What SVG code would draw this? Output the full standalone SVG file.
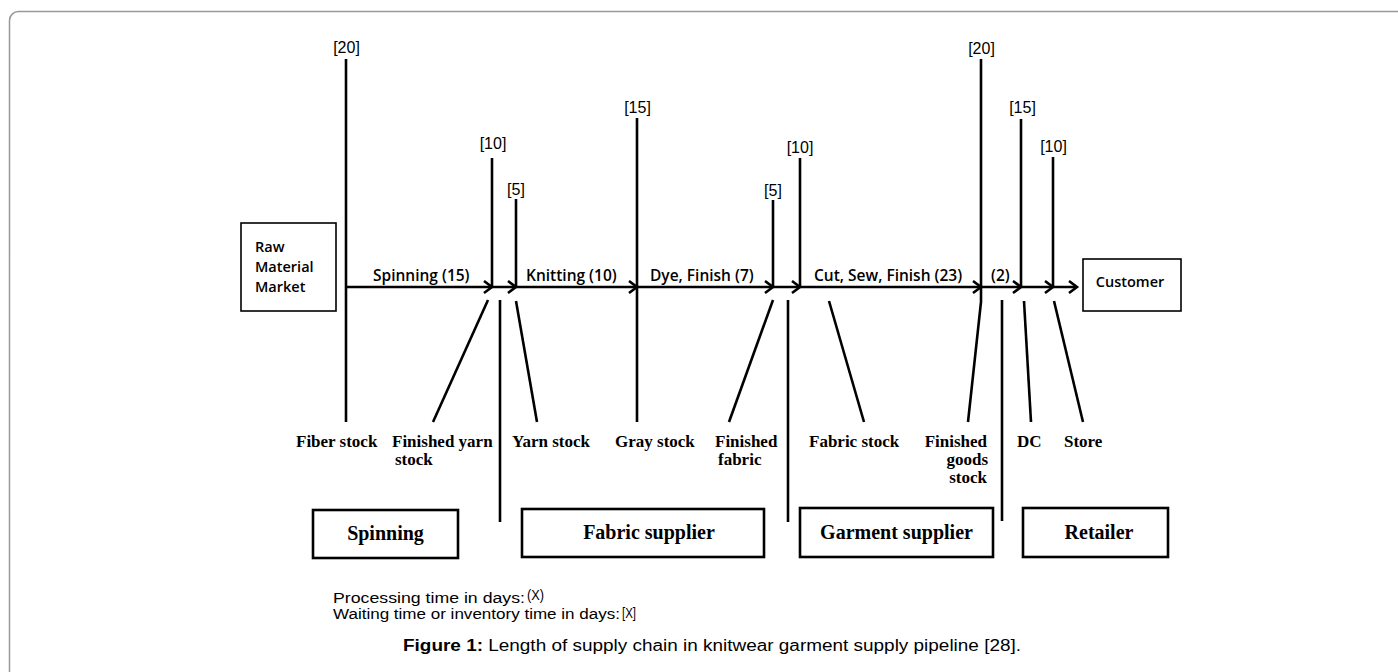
<svg xmlns="http://www.w3.org/2000/svg" width="1398" height="672" viewBox="0 0 1398 672">
<style>
.ln{stroke:#000;stroke-width:2.6;fill:none}
.ch{stroke:#000;stroke-width:2.6;fill:none;stroke-linejoin:miter}
.box{fill:#fff;stroke:#000;stroke-width:1.6}
.tbox{fill:#fff;stroke:#000;stroke-width:2.6}
.wt{font-family:"Liberation Sans",Arial,sans-serif;font-size:16px;text-anchor:middle}
.pl{font-family:"Open Sans",sans-serif;font-size:15.5px;font-weight:600}
.st{font-family:"Liberation Serif","Times New Roman",serif;font-size:17px;font-weight:bold}
.sup{font-family:"Liberation Serif","Times New Roman",serif;font-size:20px;font-weight:bold;text-anchor:middle}
.leg{font-family:"Liberation Sans",Arial,sans-serif;font-size:15.5px}
</style>
<rect x="9.5" y="11.5" width="1420" height="720" rx="9" fill="#fff" stroke="#999" stroke-width="1.5"/>

<g id="connectors">
  <line class="ln" x1="346" y1="287" x2="1076" y2="287"/>
  <polyline class="ch" points="484,281 492,287 484,293"/>
  <polyline class="ch" points="508,281 516,287 508,293"/>
  <polyline class="ch" points="629,281 637,287 629,293"/>
  <polyline class="ch" points="765,281 773,287 765,293"/>
  <polyline class="ch" points="792,281 800,287 792,293"/>
  <polyline class="ch" points="973,281 981,287 973,293"/>
  <polyline class="ch" points="1013,281 1021,287 1013,293"/>
  <polyline class="ch" points="1045,281 1053,287 1045,293"/>
  <polyline class="ch" points="1069,281 1077,287 1069,293"/>
  <line class="ln" x1="346" y1="59" x2="346" y2="422"/>
  <line class="ln" x1="492" y1="158" x2="492" y2="287"/>
  <line class="ln" x1="516" y1="199" x2="516" y2="287"/>
  <line class="ln" x1="637" y1="118" x2="637" y2="422"/>
  <line class="ln" x1="773" y1="200" x2="773" y2="287"/>
  <line class="ln" x1="800" y1="158" x2="800" y2="287"/>
  <polyline class="ln" points="981,59 981,302 968,422"/>
  <line class="ln" x1="1021" y1="119" x2="1021" y2="287"/>
  <line class="ln" x1="1053" y1="157" x2="1053" y2="287"/>
  <line class="ln" x1="488" y1="300" x2="433" y2="422"/>
  <line class="ln" x1="516" y1="301" x2="537" y2="422"/>
  <line class="ln" x1="773" y1="300" x2="729" y2="422"/>
  <line class="ln" x1="829" y1="301" x2="864" y2="422"/>
  <line class="ln" x1="1024" y1="301" x2="1031" y2="422"/>
  <line class="ln" x1="1054" y1="301" x2="1083" y2="422"/>
  <line class="ln" x1="500" y1="300" x2="500" y2="522"/>
  <line class="ln" x1="788" y1="300" x2="788" y2="522"/>
  <line class="ln" x1="1002" y1="300" x2="1002" y2="521"/>
</g>

<g id="waiting-labels">
  <text class="wt" x="346.5" y="53">[20]</text>
  <text class="wt" x="493" y="149">[10]</text>
  <text class="wt" x="516" y="195">[5]</text>
  <text class="wt" x="637.5" y="113">[15]</text>
  <text class="wt" x="773" y="196">[5]</text>
  <text class="wt" x="800" y="153">[10]</text>
  <text class="wt" x="981.5" y="54">[20]</text>
  <text class="wt" x="1022.5" y="113">[15]</text>
  <text class="wt" x="1053.5" y="152">[10]</text>
</g>

<g id="process-labels">
  <text class="pl" x="373" y="281">Spinning (15)</text>
  <text class="pl" x="526" y="281">Knitting (10)</text>
  <text class="pl" x="650" y="281">Dye, Finish (7)</text>
  <text class="pl" x="814" y="281">Cut, Sew, Finish (23)</text>
  <text class="pl" x="991" y="281">(2)</text>
</g>

<g id="raw-material-market">
  <rect class="box" x="241" y="223" width="95" height="88"/>
  <text class="pl" x="255" y="252" style="font-size:14.5px">Raw</text>
  <text class="pl" x="255" y="272" style="font-size:14.5px">Material</text>
  <text class="pl" x="255" y="292" style="font-size:14.5px">Market</text>
</g>

<g id="customer">
  <rect class="box" x="1083" y="259" width="98" height="52"/>
  <text class="pl" x="1130" y="287" style="font-size:14.5px" text-anchor="middle">Customer</text>
</g>

<g id="stock-labels">
  <text class="st" x="296" y="447">Fiber stock</text>
  <text class="st" x="392" y="447">Finished yarn</text>
  <text class="st" x="395" y="465">stock</text>
  <text class="st" x="512" y="447">Yarn stock</text>
  <text class="st" x="615" y="447">Gray stock</text>
  <text class="st" x="715" y="447">Finished</text>
  <text class="st" x="718" y="465">fabric</text>
  <text class="st" x="809" y="447">Fabric stock</text>
  <text class="st" x="987" y="447" text-anchor="end">Finished</text>
  <text class="st" x="988" y="465" text-anchor="end">goods</text>
  <text class="st" x="987" y="483" text-anchor="end">stock</text>
  <text class="st" x="1017" y="447">DC</text>
  <text class="st" x="1064" y="447">Store</text>
</g>

<g id="spinning">
  <rect class="tbox" x="313" y="510" width="145" height="48"/>
  <text class="sup" x="385.5" y="540">Spinning</text>
</g>
<g id="fabric-supplier">
  <rect class="tbox" x="522" y="509" width="242" height="48"/>
  <text class="sup" x="649" y="539">Fabric supplier</text>
</g>
<g id="garment-supplier">
  <rect class="tbox" x="800" y="508" width="193" height="49"/>
  <text class="sup" x="896.5" y="539">Garment supplier</text>
</g>
<g id="retailer">
  <rect class="tbox" x="1023" y="508" width="145" height="49"/>
  <text class="sup" x="1099" y="539">Retailer</text>
</g>

<g id="legend">
  <text class="leg" x="333" y="603" textLength="192" lengthAdjust="spacingAndGlyphs">Processing time in days:</text>
  <text class="leg" x="527" y="600" font-size="15" textLength="17" lengthAdjust="spacingAndGlyphs">(X)</text>
  <text class="leg" x="333" y="619" textLength="287" lengthAdjust="spacingAndGlyphs">Waiting time or inventory time in days:</text>
  <text class="leg" x="622" y="618" font-size="16" textLength="14" lengthAdjust="spacingAndGlyphs">[X]</text>
</g>

<g id="caption">
  <text class="leg" x="403" y="651" style="font-size:16px" textLength="618" lengthAdjust="spacingAndGlyphs"><tspan font-weight="bold">Figure 1:</tspan> Length of supply chain in knitwear garment supply pipeline [28].</text>
</g>
</svg>
